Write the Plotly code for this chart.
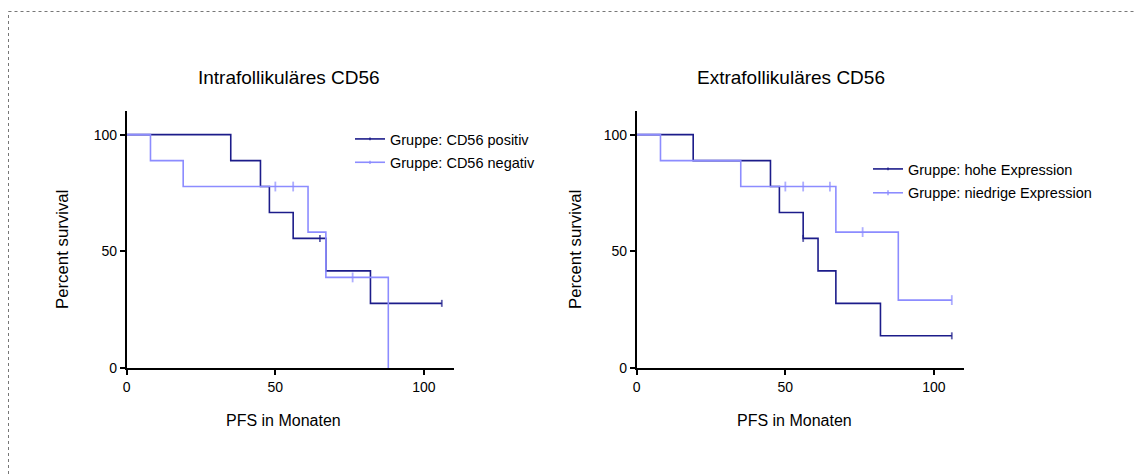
import plotly.graph_objects as go

W, H = 1134, 474

# ---- data ----
titles = ["Intrafollikuläres CD56", "Extrafollikuläres CD56"]
x_title = "PFS in Monaten"
y_title = "Percent survival"
series_names = [["Gruppe: CD56 positiv", "Gruppe: CD56 negativ"],
                ["Gruppe: hohe Expression", "Gruppe: niedrige Expression"]]

# left panel
pos_times = [0, 35, 45, 48, 56, 67, 82]
pos_surv = [100, 88.9, 77.8, 66.7, 55.6, 41.7, 27.8]
pos_cens_t = [65, 106]
pos_cens_s = [55.6, 27.8]

neg_times = [0, 8, 19, 61, 67, 88]
neg_surv = [100, 88.9, 77.8, 58.3, 38.9, 0]
neg_cens_t = [50, 56, 76]
neg_cens_s = [77.8, 77.8, 38.9]

# right panel
hi_times = [0, 19, 45, 48, 56, 61, 67, 82]
hi_surv = [100, 88.9, 77.8, 66.7, 55.6, 41.7, 27.8, 13.9]
hi_cens_t = [56, 106]
hi_cens_s = [55.6, 13.9]

lo_times = [0, 8, 35, 67, 88]
lo_surv = [100, 88.9, 77.8, 58.3, 29.2]
lo_cens_t = [50, 56, 65, 76, 106]
lo_cens_s = [77.8, 77.8, 77.8, 58.3, 29.2]

x_ticks = [0, 50, 100]
y_ticks = [0, 50, 100]

DARK = "#1c1c8a"
LIGHT = "#8c8cff"
FONT = "Liberation Sans, Arial, sans-serif"


def merged(times, surv, ct, cs, csize):
    pts = [(t, s, 0) for t, s in zip(times, surv)] + [(t, s, csize) for t, s in zip(ct, cs)]
    pts.sort(key=lambda p: (p[0], -p[1] if p[2] else 0))
    return [p[0] for p in pts], [p[1] for p in pts], [p[2] for p in pts]


fig = go.Figure()

panels = [
    [(pos_times, pos_surv, pos_cens_t, pos_cens_s, DARK, 5),
     (neg_times, neg_surv, neg_cens_t, neg_cens_s, LIGHT, 7)],
    [(hi_times, hi_surv, hi_cens_t, hi_cens_s, DARK, 5),
     (lo_times, lo_surv, lo_cens_t, lo_cens_s, LIGHT, 7)],
]

for pi, panel in enumerate(panels):
    ax = "" if pi == 0 else "2"
    leg = "legend" if pi == 0 else "legend2"
    for si, (t, s, ct, cs, col, msz) in enumerate(panel):
        xs, ys, sz = merged(t, s, ct, cs, msz)
        fig.add_trace(go.Scatter(
            x=xs, y=ys, mode="lines+markers", line=dict(color=col, width=1.6, shape="hv"),
            marker=dict(symbol="line-ns", size=sz, line=dict(color=col, width=1.8)),
            name=series_names[pi][si], xaxis="x" + ax, yaxis="y" + ax,
            legend=leg, legendgroup=f"g{pi}{si}", showlegend=True, hoverinfo="skip"))

ydom = [1 - 368.3 / H, 1 - 111.3 / H]
axis_common = dict(range=[0, 110], showgrid=False, zeroline=False, showline=True,
                   linecolor="black", linewidth=1.5, ticks="outside", ticklen=5,
                   tickwidth=1.5, tickcolor="black", automargin=False,
                   tickfont=dict(family=FONT, size=14, color="black"))

fig.update_layout(
    width=W, height=H, margin=dict(l=0, r=0, t=0, b=0, autoexpand=False),
    paper_bgcolor="white", plot_bgcolor="white",
    font=dict(family=FONT, color="black"),
    xaxis=dict(domain=[126.7 / W, 453.7 / W], anchor="y", tickvals=x_ticks, **axis_common),
    yaxis=dict(domain=ydom, anchor="x", tickvals=y_ticks, **axis_common),
    xaxis2=dict(domain=[636.7 / W, 963.7 / W], anchor="y2", tickvals=x_ticks, **axis_common),
    yaxis2=dict(domain=ydom, anchor="x2", tickvals=y_ticks, **axis_common),
    legend=dict(x=350 / W, y=1 - 123 / H, xanchor="left", yanchor="top",
                bgcolor="rgba(0,0,0,0)", font=dict(family=FONT, size=14.5),
                itemwidth=30, tracegroupgap=1.5),
    legend2=dict(x=868 / W, y=1 - 153 / H, xanchor="left", yanchor="top",
                 bgcolor="rgba(0,0,0,0)", font=dict(family=FONT, size=14.5),
                 itemwidth=30, tracegroupgap=2),
)

annotations = []
for cx, tt in [(288.5, titles[0]), (791, titles[1])]:
    annotations.append(dict(x=cx / W, y=1 - 77 / H, xref="paper", yref="paper",
                            xanchor="center", yanchor="middle",
                            text=tt, showarrow=False, font=dict(size=19, family=FONT)))
for cx in [283, 794]:
    annotations.append(dict(x=cx / W, y=1 - 420 / H, xref="paper", yref="paper",
                            xanchor="center", yanchor="middle",
                            text=x_title, showarrow=False, font=dict(size=16, family=FONT)))
for cx in [62, 575]:
    annotations.append(dict(x=cx / W, y=1 - 250 / H, xref="paper", yref="paper",
                            xanchor="center", yanchor="middle",
                            text=y_title, textangle=-90, showarrow=False,
                            font=dict(size=16.8, family=FONT)))
fig.update_layout(annotations=annotations)

# dotted frame (top and left)
fig.add_shape(type="line", xref="paper", yref="paper", x0=8.5 / W, x1=1, y0=1 - 11.5 / H, y1=1 - 11.5 / H,
              line=dict(color="#777777", width=1, dash="dot"))
fig.add_shape(type="line", xref="paper", yref="paper", x0=8.5 / W, x1=8.5 / W, y0=0, y1=1 - 11.5 / H,
              line=dict(color="#777777", width=1, dash="dot"))

fig.write_html("out.html")
